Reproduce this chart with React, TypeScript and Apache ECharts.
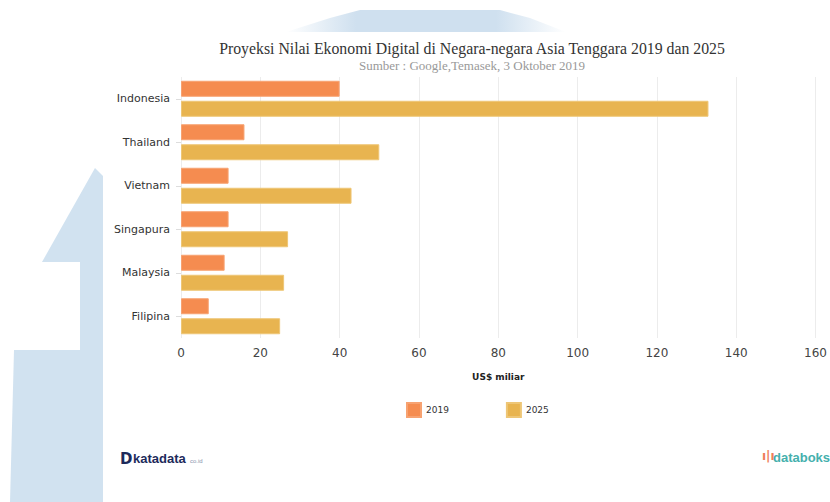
import React, { useEffect, useRef } from "react";
import * as echarts from "echarts";

const categories = ["Indonesia", "Thailand", "Vietnam", "Singapura", "Malaysia", "Filipina"];
const values2019 = [40, 16, 12, 12, 11, 7];
const values2025 = [133, 50, 43, 27, 26, 25];
const seriesNames = ["2019", "2025"];
const titleText = "Proyeksi Nilai Ekonomi Digital di Negara-negara Asia Tenggara 2019 dan 2025";
const subtitleText = "Sumber : Google,Temasek, 3 Oktober 2019";
const axisName = "US$ miliar";

export default function App() {
  const ref = useRef<HTMLDivElement>(null);
  useEffect(() => {
    if (!ref.current) return;
    const chart = echarts.init(ref.current, null, { renderer: "svg" });
    const blue = "#cfe0ef";
    const fadeH = new echarts.graphic.LinearGradient(0, 0, 1, 0, [
      { offset: 0, color: "rgba(207,224,239,0)" },
      { offset: 0.25, color: blue },
      { offset: 0.75, color: blue },
      { offset: 1, color: "rgba(207,224,239,0)" },
    ]);
    chart.setOption({
      animation: false,
      backgroundColor: "#ffffff",
      title: {
        text: titleText,
        subtext: subtitleText,
        left: 467,
        textAlign: "center",
        top: 35,
        itemGap: 3,
        textStyle: { fontFamily: "Liberation Serif", fontSize: 15.8, fontWeight: "normal", color: "#333" },
        subtextStyle: { fontFamily: "Liberation Serif", fontSize: 13, color: "#999" },
      },
      graphic: [
        {
          type: "polygon",
          z: -10,
          silent: true,
          shape: {
            points: [
              [95, 168], [103, 176], [103, 502], [10, 502], [14, 350], [80, 350], [80, 262], [42, 262],
            ],
          },
          style: { fill: blue, opacity: 0.95 },
        },
        {
          type: "polygon",
          z: -10,
          silent: true,
          shape: {
            points: [[286, 32], [330, 18], [360, 10], [500, 10], [530, 18], [566, 32]],
          },
          style: { fill: fadeH },
        },
        {
          type: "text",
          left: 120,
          top: 451,
          style: { text: "D", fontFamily: "DejaVu Sans", fontWeight: "bold", fontSize: 15, fill: "#1d2a5b" },
        },
        {
          type: "text",
          left: 133,
          top: 452,
          style: { text: "katadata", fontFamily: "Liberation Sans", fontWeight: "bold", fontSize: 13, fill: "#1d2a5b" },
        },
        {
          type: "text",
          left: 190,
          top: 458,
          style: { text: "co.id", fontFamily: "Liberation Sans", fontSize: 6, fill: "#8a94ad" },
        },
        {
          type: "text",
          left: 762,
          top: 450,
          style: { text: "ı|ı", fontFamily: "DejaVu Sans", fontWeight: "bold", fontSize: 12, fill: "#ef7d5a" },
        },
        {
          type: "text",
          left: 773,
          top: 451,
          style: { text: "databoks", fontFamily: "Liberation Sans", fontWeight: "bold", fontSize: 13, fill: "#45b0ad" },
        },
      ],
      legend: {
        data: seriesNames,
        icon: "rect",
        left: 401,
        top: 397,
        itemWidth: 14,
        itemHeight: 14,
        itemGap: 57,
        textStyle: { fontFamily: "DejaVu Sans", fontSize: 9, color: "#333" },
      },
      grid: { left: 181, right: 9, top: 77, bottom: 164, containLabel: false },
      xAxis: {
        type: "value",
        min: 0,
        max: 160,
        interval: 20,
        name: axisName,
        nameLocation: "middle",
        nameGap: 34,
        nameTextStyle: { fontFamily: "DejaVu Sans", fontSize: 9, fontWeight: "bold", color: "#222" },
        axisLine: { show: false },
        axisTick: { show: false },
        axisLabel: { fontFamily: "DejaVu Sans", fontSize: 12, color: "#444", margin: 9 },
        splitLine: { lineStyle: { color: "#ececec" } },
      },
      yAxis: {
        type: "category",
        data: categories,
        inverse: true,
        axisLine: { show: false },
        axisTick: { show: true, length: 5, alignWithLabel: true, lineStyle: { color: "#ddd" } },
        axisLabel: { fontFamily: "DejaVu Sans", fontSize: 11, color: "#333", margin: 11 },
        splitLine: { show: false },
      },
      series: [
        {
          name: seriesNames[0],
          type: "bar",
          data: values2019,
          barWidth: 16,
          barGap: "25%",
          itemStyle: { color: "#f58c50", borderColor: "#f7a271", borderWidth: 1 },
        },
        {
          name: seriesNames[1],
          type: "bar",
          data: values2025,
          barWidth: 16,
          barGap: "25%",
          itemStyle: { color: "#e8b450", borderColor: "#eec676", borderWidth: 1 },
        },
      ],
    });
    return () => chart.dispose();
  }, []);
  return (
    <div
      ref={ref}
      style={{ position: "absolute", left: 0, top: 0, width: 830, height: 502 }}
    />
  );
}
